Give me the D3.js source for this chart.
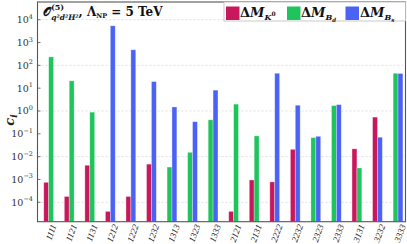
<!DOCTYPE html>
<html><head><meta charset="utf-8">
<script src="https://cdn.jsdelivr.net/npm/d3@7"></script>
<style>body{margin:0;background:#fff}svg{display:block}</style>
</head><body>
<script>
const categories = ["1111","1121","1131","1212","1222","1232","1313","1323","1333","2121","2131","2222","2232","2323","2333","3131","3232","3333"];
const dMK  = [7.5e-4, 1.8e-4, 4.2e-3, 4e-5, 1.8e-4, 4.7e-3, null, null, null, 4e-5, 9.5e-4, 7.8e-4, 0.021, null, null, 0.022, 0.54, null];
const dMBd = [235, 21, 0.89, null, null, null, 3.5e-3, 0.0155, 0.41, 2.0, 0.081, null, null, 0.068, 1.73, 3.2e-3, null, 45];
const dMBs = [null, null, null, 5400, 480, 19.5, 1.5, 0.34, 8.2, null, null, 45, 1.79, 0.078, 1.9, null, 0.071, 44];
const yTickExps = [4,3,2,1,0,-1,-2,-3,-4];
const gridExps = [4,2,0,-2,-4];
const seriesNames = ["K0","Bd","Bs"];
const colors = ["#c8175d","#1fc45c","#4a63f5"];

const W=407,H=244;
const L=37.5,R=405.5,T=2,B=221.7;
const svg=d3.select("body").append("svg").attr("width",W).attr("height",H);
const x=d3.scaleBand().domain(categories).range([38.4,408.3]).padding(0);
const y=d3.scaleLog().domain([Math.pow(10,-4.85),Math.pow(10,4.775)]).range([B,T]);

// grid
svg.append("g").selectAll("line").data(gridExps).join("line")
  .attr("x1",L).attr("x2",R).attr("y1",d=>y(Math.pow(10,d))).attr("y2",d=>y(Math.pow(10,d)))
  .attr("stroke","#d8d8d8").attr("stroke-width",0.8).attr("stroke-dasharray","2,2");

// bars
const bw=4.9;
const series=[dMK,dMBd,dMBs];
const bars=[];
categories.forEach((c,i)=>{
  const present=[0,1,2].filter(s=>series[s][i]!=null);
  const cx=x(c)+x.bandwidth()/2;
  present.forEach((s,k)=>{
    bars.push({c,s,v:series[s][i],x0:cx-present.length*bw/2+k*bw});
  });
});
svg.append("g").selectAll("rect").data(bars).join("rect")
  .attr("x",d=>d.x0).attr("width",bw)
  .attr("y",d=>y(d.v)).attr("height",d=>B-y(d.v))
  .attr("fill",d=>colors[d.s]).attr("stroke","rgba(255,255,255,0.45)").attr("stroke-width",0.7);

// frame
svg.append("rect").attr("x",L).attr("y",T).attr("width",R-L).attr("height",B-T)
  .attr("fill","none").attr("stroke","#555").attr("stroke-width",1.1);

// y ticks
const yt=svg.append("g");
yTickExps.forEach(e=>{
  const yy=y(Math.pow(10,e));
  yt.append("line").attr("x1",L).attr("x2",L+3).attr("y1",yy).attr("y2",yy).attr("stroke","#555").attr("stroke-width",0.8);
  const t=yt.append("text").attr("x",33).attr("y",yy+3.5).attr("text-anchor","end")
    .attr("font-family","DejaVu Serif, serif").attr("font-size",9.5).attr("fill","#333");
  t.append("tspan").text("10");
  t.append("tspan").attr("dy",-4.5).attr("font-size",6.5).text(e<0?"\u2212"+(-e):String(e));
});

// x labels
svg.append("g").selectAll("text").data(categories).join("text")
  .attr("transform",d=>`translate(${x(d)+x.bandwidth()/2+5},${B+3}) rotate(-70)`)
  .attr("text-anchor","end").attr("dy","0.35em")
  .attr("font-family","Liberation Serif, serif").attr("font-style","italic").attr("font-size",9).attr("fill","#222")
  .text(d=>d);

// y label
const yl=svg.append("text").attr("transform","translate(14,120) rotate(-90)")
  .attr("text-anchor","middle").attr("font-family","DejaVu Serif, serif").attr("font-style","italic")
  .attr("font-weight","bold").attr("font-size",13).attr("fill","#222");
yl.append("tspan").text("c");
yl.append("tspan").attr("dy",3).attr("font-size",9).text("i");

// title
const tt=svg.append("text").attr("x",43).attr("y",16).attr("font-family","DejaVu Serif, serif")
  .attr("font-weight","bold").attr("font-size",12).attr("fill","#111");
tt.append("tspan").text("\uD835\uDCAA");
tt.append("tspan").attr("dy",-6).attr("font-size",8).text("(5)");
tt.append("tspan").attr("dx",-13).attr("dy",10).attr("font-size",7.5).attr("font-style","italic").text("q\u00B2d\u00B2H\u00B2");
tt.append("tspan").attr("dy",-4).text(", \u039B");
tt.append("tspan").attr("dy",2).attr("font-size",6.5).text("NP");
tt.append("tspan").attr("dy",-2).text(" = 5 TeV");

// legend
const lg=svg.append("g");
lg.append("rect").attr("x",224).attr("y",T).attr("width",R-224).attr("height",19)
  .attr("fill","#fff").attr("stroke","#bbb").attr("stroke-width",0.8);
const items=[{s:0,sx:226,tx:240,sub:"K",sup:"0"},{s:1,sx:287,tx:301,sub:"B",subsub:"d"},{s:2,sx:345.5,tx:360,sub:"B",subsub:"s"}];
items.forEach(it=>{
  lg.append("rect").attr("x",it.sx).attr("y",6.5).attr("width",13.5).attr("height",13.5).attr("fill",colors[it.s]);
  const t=lg.append("text").attr("x",it.tx).attr("y",17).attr("font-family","DejaVu Serif, serif")
    .attr("font-weight","bold").attr("font-size",13).attr("fill","#111");
  t.append("tspan").text("\u0394");
  t.append("tspan").attr("font-style","italic").text("M");
  t.append("tspan").attr("dy",3).attr("font-size",8).attr("font-style","italic").text(it.sub);
  if(it.sup) t.append("tspan").attr("dy",-4).attr("font-size",6).text(it.sup);
  if(it.subsub) t.append("tspan").attr("dy",1.5).attr("font-size",5.5).attr("font-style","italic").text(it.subsub);
});
</script>
</body></html>
